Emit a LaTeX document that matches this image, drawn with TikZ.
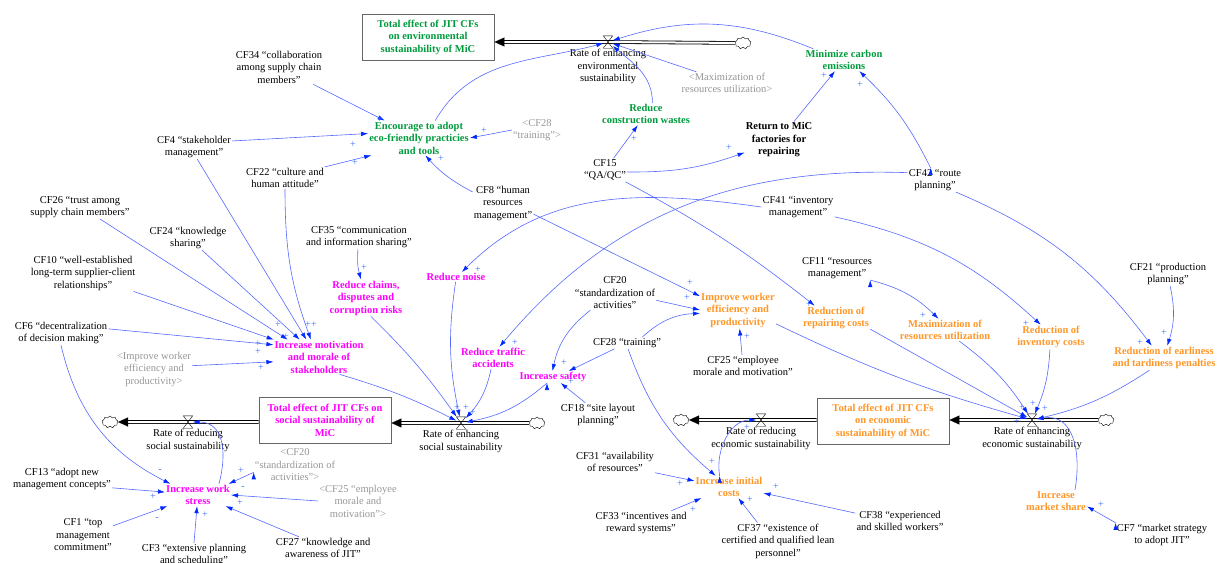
\documentclass[tikz,border=0pt]{standalone}
\usepackage{fontspec}
\setmainfont{Liberation Serif}
\usetikzlibrary{arrows.meta,positioning,shapes.symbols}

\definecolor{envgreen}{RGB}{0,155,60}
\definecolor{socmag}{RGB}{255,0,255}
\definecolor{ecoorange}{RGB}{255,150,40}
\definecolor{ghostgrey}{RGB}{150,150,150}
\definecolor{linkblue}{RGB}{85,105,255}
\definecolor{tipblue}{RGB}{0,40,255}
\definecolor{polblue}{RGB}{60,110,255}
\newcommand\cffont{\fontsize{10.5}{12.5}\selectfont}

\begin{document}
\begin{tikzpicture}[x=1pt,y=-1pt,
    >={Latex[length=7pt,width=4.5pt,color=tipblue]},
    cf/.style={align=center,font=\cffont,inner sep=1pt},
    ghost/.style={cf,text=ghostgrey},
    env/.style={cf,font=\cffont\bfseries,text=envgreen},
    soc/.style={cf,font=\cffont\bfseries,text=socmag},
    eco/.style={cf,font=\cffont\bfseries,text=ecoorange},
    blackvar/.style={cf,font=\cffont\bfseries},
    stock/.style={draw=black!60,line width=0.9pt,fill=white,align=center,
      font=\cffont\bfseries,minimum width=132pt,minimum height=46pt,inner sep=2pt},
    valve/.style={minimum width=9pt,minimum height=12pt,inner sep=0pt},
    source/.style={cloud,cloud puffs=9,draw,thin,minimum width=16pt,
      minimum height=12pt,inner sep=0pt},
    pipe/.style={draw=black,double=white,double distance=2pt,line width=0.8pt,
      shorten >=8pt},
    pipetip/.style={draw=white,line width=0.2pt,
      -{Triangle[length=10pt,width=9pt,color=black]}},
    link/.style={draw=linkblue,line width=0.6pt,->},
    pol/.style={text=polblue,font=\fontsize{10}{10}\selectfont,inner sep=0pt}]

  \useasboundingbox (0,0) rectangle (1223,562);

  % stocks
  \node[stock,text=envgreen] (envstock) at (428,37)
    {Total effect of JIT CFs\\on environmental\\sustainability of MiC};
  \node[stock,text=socmag] (socstock) at (325,420)
    {Total effect of JIT CFs on\\social sustainability of\\MiC};
  \node[stock,text=ecoorange] (ecostock) at (883,421)
    {Total effect of JIT CFs\\on economic\\sustainability of MiC};

  % valves and clouds
  \node[valve] (envvalve) at (608,42) {};
  \node[source] (envcloud) at (743,43) {};
  \node[valve] (socrvalve) at (188,422) {};
  \node[source] (soccloudl) at (110,422) {};
  \node[valve] (socevalve) at (461,423) {};
  \node[source] (soccloudr) at (537,423) {};
  \node[valve] (ecorvalve) at (761,420) {};
  \node[source] (ecocloudl) at (681,420) {};
  \node[valve] (ecoevalve) at (1032,420) {};
  \node[source] (ecocloudr) at (1106,420) {};

  \node[cf,below=0pt of envvalve] (envrate) {Rate of enhancing\\environmental\\sustainability};
  \node[cf,below=0pt of socrvalve] (socrrate) {Rate of reducing\\social sustainability};
  \node[cf,below=0pt of socevalve] (socerate) {Rate of enhancing\\social sustainability};
  \node[cf,below=0pt of ecorvalve] (ecorrate) {Rate of reducing\\economic sustainability};
  \node[cf,below=0pt of ecoevalve] (ecoerate) {Rate of enhancing\\economic sustainability};

  % pipes
  \draw[pipe] (envcloud) -- (envvalve.center) -- (envvalve.center -| envstock.east);
  \draw[pipe] (socstock.west |- socrvalve.center) -- (socrvalve.center) -- (soccloudl);
  \draw[pipe] (soccloudr) -- (socevalve.center) -- (socevalve.center -| socstock.east);
  \draw[pipe] (ecostock.west |- ecorvalve.center) -- (ecorvalve.center) -- (ecocloudl);
  \draw[pipe] (ecocloudr) -- (ecoevalve.center) -- (ecoevalve.center -| ecostock.east);
  \draw[pipetip] (envvalve.center) -- (envvalve.center -| envstock.east);
  \draw[pipetip] (socrvalve.center) -- (soccloudl);
  \draw[pipetip] (socevalve.center) -- (socevalve.center -| socstock.east);
  \draw[pipetip] (ecorvalve.center) -- (ecocloudl);
  \draw[pipetip] (ecoevalve.center) -- (ecoevalve.center -| ecostock.east);
  \foreach \v in {envvalve,socrvalve,socevalve,ecorvalve,ecoevalve}
    \draw[thin] (\v.north west) -- (\v.north east) -- (\v.south west)
      -- (\v.south east) -- cycle;

  % environmental side
  \node[cf] (cf34) at (279,67) {CF34 “collaboration\\among supply chain\\members”};
  \node[cf] (cf4) at (194,147) {CF4 “stakeholder\\management”};
  \node[cf] (cf22) at (285,178) {CF22 “culture and\\human attitude”};
  \node[env] (encour) at (419,138) {Encourage to adopt\\eco-friendly practicies\\and tools};
  \node[ghost] (cf28s) at (537,130) {<CF28\\“training”>};
  \node[cf] (cf8) at (503,203) {CF8 “human\\resources\\management”};
  \node[ghost] (maxs) at (727,83) {<Maximization of\\resources utilization>};
  \node[env] (wastes) at (646,114) {Reduce\\construction wastes};
  \node[env] (carbon) at (844,60) {Minimize carbon\\emissions};
  \node[blackvar] (repair) at (779,140) {Return to MiC\\factories for\\repairing};
  \node[cf] (cf15) at (605,170) {CF15\\“QA/QC”};
  \node[cf] (cf41) at (798,207) {CF41 “inventory\\management”};
  \node[cf] (cf42) at (935,180) {CF42 “route\\planning”};

  % social side
  \node[cf] (cf26) at (80,207) {CF26 “trust among\\supply chain members”};
  \node[cf] (cf24) at (188,238) {CF24 “knowledge\\sharing”};
  \node[cf] (cf10) at (83,273) {CF10 “well-established\\long-term supplier-client\\relationships”};
  \node[cf] (cf6) at (61,333) {CF6 “decentralization\\of decision making”};
  \node[ghost] (imprs) at (154,369) {<Improve worker\\efficiency and\\productivity>};
  \node[cf] (cf35) at (359,237) {CF35 “communication\\and information sharing”};
  \node[soc] (claims) at (366,298) {Reduce claims,\\disputes and\\corruption risks};
  \node[soc] (motiv) at (319,357) {Increase motivation\\and morale of\\stakeholders};
  \node[soc] (noise) at (456,277) {Reduce noise};
  \node[soc] (traffic) at (493,358) {Reduce traffic\\accidents};
  \node[soc] (safety) at (553,377) {Increase safety};
  \node[cf] (cf20) at (615,293) {CF20\\“standardization of\\activities”};
  \node[cf] (cf28) at (627,343) {CF28 “training”};
  \node[cf] (cf18) at (598,415) {CF18 “site layout\\planning”};
  \node[soc] (stress) at (198,495) {Increase work\\stress};
  \node[ghost] (cf20s) at (295,465) {<CF20\\“standardization of\\activities”>};
  \node[ghost] (cf25s) at (358,501) {<CF25 “employee\\morale and\\motivation”>};
  \node[cf] (cf13) at (62,479) {CF13 “adopt new\\management concepts”};
  \node[cf] (cf1) at (83,535) {CF1 “top\\management\\commitment”};
  \node[cf] (cf3) at (194,555) {CF3 “extensive planning\\and scheduling”};
  \node[cf] (cf27) at (323,548) {CF27 “knowledge and\\awareness of JIT”};

  % economic side
  \node[eco] (improve) at (738,310) {Improve worker\\efficiency and\\productivity};
  \node[cf] (cf25) at (743,366) {CF25 “employee\\morale and motivation”};
  \node[cf] (cf11) at (837,268) {CF11 “resources\\management”};
  \node[cf] (cf21) at (1168,274) {CF21 “production\\planning”};
  \node[eco] (repcost) at (836,318) {Reduction of\\repairing costs};
  \node[eco] (maxres) at (945,330) {Maximization of\\resources utilization};
  \node[eco] (invcost) at (1051,337) {Reduction of\\inventory costs};
  \node[eco] (earli) at (1164,358) {Reduction of earliness\\and tardiness penalties};
  \node[cf] (cf31) at (615,462) {CF31 “availability\\of resources”};
  \node[eco] (initcost) at (729,487) {Increase initial\\costs};
  \node[cf] (cf33) at (641,523) {CF33 “incentives and\\reward systems”};
  \node[cf] (cf37) at (778,541) {CF37 “existence of\\certified and qualified lean\\personnel”};
  \node[cf] (cf38) at (900,521) {CF38 “experienced\\and skilled workers”};
  \node[eco] (mshare) at (1056,501) {Increase\\market share};
  \node[cf] (cf7) at (1162,535) {CF7 “market strategy\\to adopt JIT”};

  % links
  \path[link]
    (cf34) edge (encour)
    (cf4.9) edge (encour.175)
    (cf22.north east) edge (encour.-160)
    (cf28s.west) edge (encour.east)
    (cf8.160) edge[bend left=10] (encour.-70)
    (encour.47) edge[out=60,in=195] (envvalve)
    (wastes.60) edge[out=90,in=-40] (envvalve)
    (maxs.160) edge (envvalve)
    (carbon.160) edge[bend right=20] (envvalve)
    (cf15) edge (wastes)
    (cf15.-5) edge[bend right=10] (repair.200)
    (repair) edge (carbon)
    (cf42.110) edge[bend right=10] (carbon.-36);
  \path[link]
    (cf42.165) edge[out=178,in=50] (traffic.60)
    (cf41.west) edge[out=172,in=45] (noise.40)
    (cf15.-30) edge[bend left=5] (repcost.150)
    (cf8.-20) edge (improve.160)
    (cf41.-15) edge[bend left=15] (invcost.130)
    (cf42.-30) edge[bend left=15] (earli.135)
    (cf21.-80) edge[bend left=15] (earli.75)
    (cf11.-20) edge[bend left=15] (maxres.120);
  \path[link]
    (cf4.-75) edge (motiv.126)
    (cf22.south) edge[out=-90,in=110] (motiv.115)
    (cf26.-31) edge (motiv.151)
    (cf24.-41) edge (motiv.138)
    (cf10.-20) edge (motiv.159)
    (cf6.5) edge (motiv.165)
    (imprs.5) edge (motiv.-174)
    (cf35.-95) edge[bend right=10] (claims.105)
    (claims.-75) edge[bend left=5] (socevalve)
    (motiv.-40) edge[bend left=5] (socevalve)
    (noise.-95) edge[bend right=10] (socevalve)
    (traffic.-100) edge[bend left=15] (socevalve)
    (safety.-135) edge[bend left=15] (socevalve);
  \path[link]
    (stress.28) edge[out=75,in=0,looseness=1.2] (socrvalve)
    (cf6.-90) edge[bend right=25] (stress.158)
    (cf13.-10) edge (stress.175)
    (cf1.17) edge (stress.-160)
    (cf3.north) edge (stress)
    (cf27.155) edge (stress.-22)
    (cf25s.west) edge (stress.east)
    (cf20s.190) edge (stress.20);
  \path[link]
    (cf20.-145) edge[bend right=20] (safety.95)
    (cf28.-155) edge (safety.21)
    (cf18.136) edge (safety.-38)
    (cf20.-10) edge (improve.180)
    (cf28.21) edge[bend left=20] (improve.185)
    (cf25) edge (improve)
    (cf28.-80) edge[bend right=15] (initcost.140)
    (cf31.-15) edge (initcost.170)
    (cf33.22) edge (initcost.-158)
    (cf37.138) edge (initcost.-50)
    (cf38.170) edge (initcost.-10)
    (initcost.130) edge[out=100,in=180] (ecorvalve);
  \path[link]
    (improve.-20) edge[bend right=5] (ecoevalve)
    (repcost.-18) edge (ecoevalve)
    (maxres.-38) edge[bend left=10] (ecoevalve)
    (invcost.-95) edge[bend left=10] (ecoevalve)
    (earli.-140) edge[bend left=10] (ecoevalve)
    (mshare.30) edge[out=80,in=10,looseness=1.2] (ecoevalve)
    (cf7.north west) edge (mshare.-10);

  % polarities
  \foreach \px/\py/\s [count=\i] in {380/120/+, 353/145/+, 355/163/+, 484/131/+,
      441/159/+, 634/139/+, 729/148/+, 824/76/+, 860/85/+,
      278/325/+, 286/337/+, 308/325/+, 314/325/+, 258/344/+, 258/352/+, 261/368/+,
      364/268/+, 478/270/+, 515/343/+, 564/363/+, 571/382/+,
      690/283/+, 687/298/+, 747/337/+, 809/305/+, 923/316/+, 1026/324/+,
      1140/343/+, 1164/333/+, 457/408/+, 466/408/+, 473/413/+,
      1022/408/+, 1033/404/+, 1045/409/+, 1017/422/+, 747/428/+,
      712/462/+, 680/484/+, 693/510/+, 750/500/+, 776/487/+, 1101/505/+,
      160/471/-, 153/497/+, 157/519/-, 205/515/+, 241/471/+, 243/488/-, 240/503/+}
    \node[pol] (pol\i) at (\px,\py) {\s};
\end{tikzpicture}
\end{document}
